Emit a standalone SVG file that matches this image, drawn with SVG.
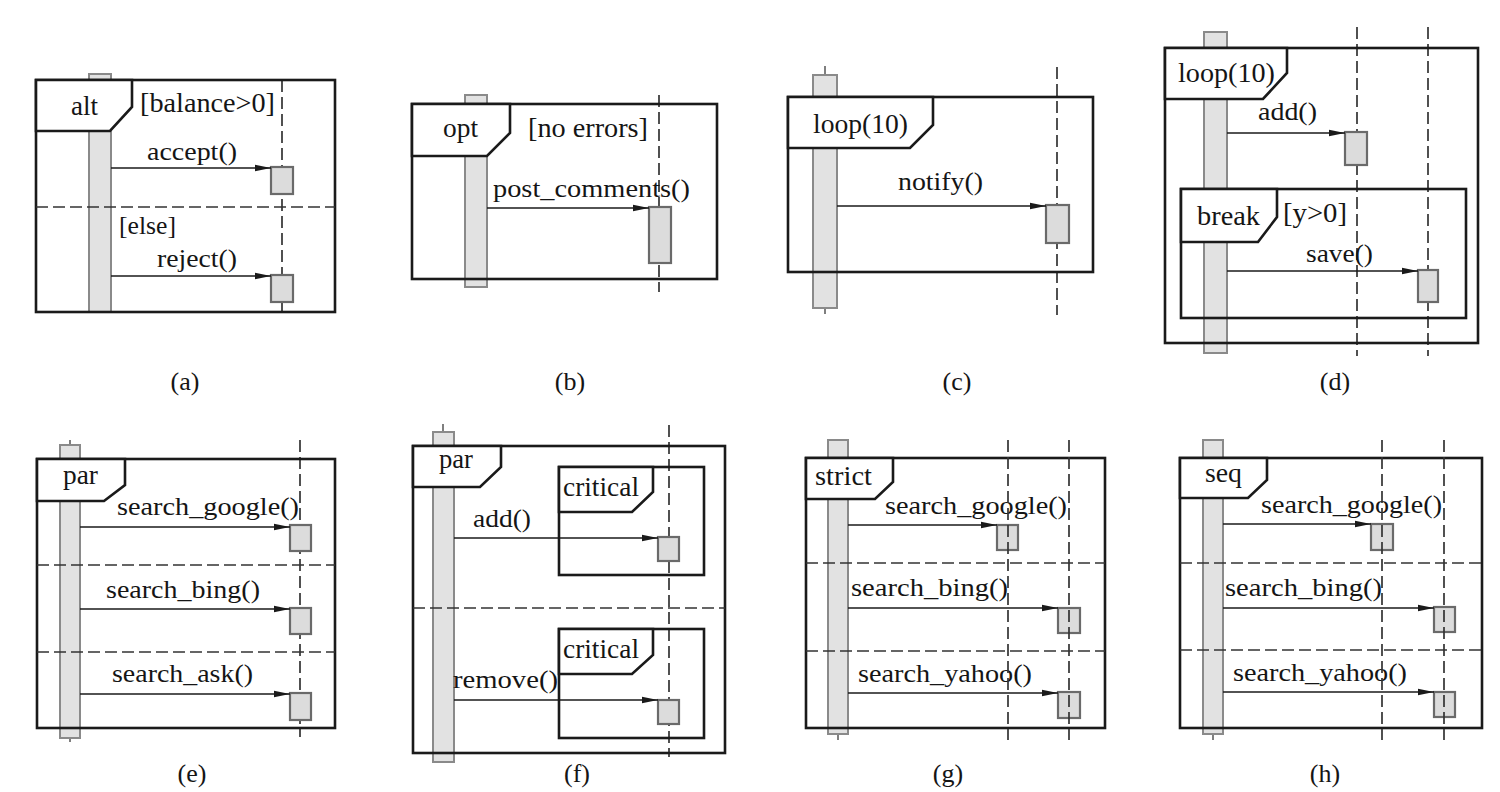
<svg xmlns="http://www.w3.org/2000/svg" width="1500" height="792" viewBox="0 0 1500 792">
<defs>
<marker id="arr" markerWidth="16" markerHeight="8" refX="16" refY="4" orient="auto" markerUnits="userSpaceOnUse"><path d="M0,0.8 L16,4 L0,7.2 z" fill="#1a1a1a"/></marker>
<style>
.fr{fill:none;stroke:#1a1a1a;stroke-width:2.6}
.tab{fill:#fff;stroke:#1a1a1a;stroke-width:2.6;stroke-linejoin:miter}
.ll{fill:none;stroke:#333;stroke-width:1.7;stroke-dasharray:12 5}
.bar{fill:#e2e2e2;stroke:#8a8a8a;stroke-width:2}
.stub{stroke:#555;stroke-width:1.5}
.act{fill:#dcdcdc;stroke:#6a6a6a;stroke-width:2.2}
.msg{fill:none;stroke:#1a1a1a;stroke-width:1.6;marker-end:url(#arr)}
text{font-family:"Liberation Serif","Tinos","Times New Roman",serif;fill:#151515}
.t26{font-size:28px}
.t24{font-size:26px}
.lab{font-size:26px;text-anchor:middle}
</style>
</defs>
<rect width="1500" height="792" fill="#fff"/>

<!-- (a) alt -->
<g id="panel-a">
<line class="ll" x1="282" y1="80" x2="282" y2="315"/>
<rect class="bar" x="89" y="74" width="22" height="238"/>
<rect class="fr" x="36" y="80" width="299" height="232"/>
<line class="ll" x1="36" y1="207" x2="335" y2="207"/>
<polygon class="tab" points="36,80 132,80 132,107 110,131 36,131"/>
<text class="t26" x="71" y="115" textLength="27" lengthAdjust="spacingAndGlyphs">alt</text>
<text class="t26" x="140" y="112" textLength="135" lengthAdjust="spacingAndGlyphs">[balance&gt;0]</text>
<text class="t24" x="147" y="160" textLength="90" lengthAdjust="spacingAndGlyphs">accept()</text>
<text class="t24" x="119" y="234" textLength="57" lengthAdjust="spacingAndGlyphs">[else]</text>
<text class="t24" x="157" y="267" textLength="80" lengthAdjust="spacingAndGlyphs">reject()</text>
<rect class="act" x="271" y="167" width="22" height="27"/>
<rect class="act" x="271" y="275" width="22" height="27"/>
</g>

<!-- (b) opt -->
<g id="panel-b">
<line class="ll" x1="659" y1="95" x2="659" y2="292"/>
<rect class="bar" x="465" y="95" width="22" height="192"/>
<rect class="fr" x="412" y="104" width="305" height="175"/>
<polygon class="tab" points="412,104 510,104 510,133 487,156 412,156"/>
<text class="t26" x="443" y="137" textLength="35" lengthAdjust="spacingAndGlyphs">opt</text>
<text class="t26" x="528" y="137" textLength="120" lengthAdjust="spacingAndGlyphs">[no errors]</text>
<text class="t24" x="493" y="197" textLength="197" lengthAdjust="spacingAndGlyphs">post_comments()</text>
<rect class="act" x="649" y="207" width="22" height="56"/>
</g>

<!-- (c) loop -->
<g id="panel-c">
<line class="ll" x1="1057" y1="67" x2="1057" y2="315"/>
<line class="stub" x1="825" y1="66" x2="825" y2="314"/>
<rect class="bar" x="813" y="75" width="24" height="233"/>
<rect class="fr" x="788" y="97" width="305" height="175"/>
<polygon class="tab" points="788,97 933,97 933,125 910,148 788,148"/>
<text class="t26" x="813" y="133" textLength="95" lengthAdjust="spacingAndGlyphs">loop(10)</text>
<text class="t24" x="898" y="190" textLength="85" lengthAdjust="spacingAndGlyphs">notify()</text>
<rect class="act" x="1046" y="205" width="23" height="38"/>
</g>

<!-- (d) loop + break -->
<g id="panel-d">
<line class="ll" x1="1357" y1="27" x2="1357" y2="356"/>
<line class="ll" x1="1428" y1="27" x2="1428" y2="356"/>
<rect class="bar" x="1204" y="32" width="23" height="321"/>
<rect class="fr" x="1165" y="48" width="313" height="295"/>
<polygon class="tab" points="1165,48 1287,48 1287,73 1263,99 1165,99"/>
<text class="t26" x="1178" y="82" textLength="97" lengthAdjust="spacingAndGlyphs">loop(10)</text>
<text class="t24" x="1258" y="120" textLength="59" lengthAdjust="spacingAndGlyphs">add()</text>
<rect class="act" x="1345" y="132" width="22" height="33"/>
<g id="frame-break">
<rect class="fr" x="1181" y="189" width="285" height="129"/>
<polygon class="tab" points="1181,189 1277,189 1277,217 1258,242 1181,242"/>
<text class="t26" x="1197" y="225" textLength="63" lengthAdjust="spacingAndGlyphs">break</text>
<text class="t26" x="1283" y="222" textLength="64" lengthAdjust="spacingAndGlyphs">[y&gt;0]</text>
</g>
<text class="t24" x="1306" y="262" textLength="67" lengthAdjust="spacingAndGlyphs">save()</text>
<rect class="act" x="1418" y="270" width="20" height="32"/>
</g>

<!-- (e) par -->
<g id="panel-e">
<line class="ll" x1="300" y1="440" x2="300" y2="737"/>
<line class="stub" x1="70" y1="440" x2="70" y2="742"/>
<rect class="bar" x="60" y="445" width="20" height="293"/>
<rect class="fr" x="37" y="459" width="298" height="269"/>
<line class="ll" x1="37" y1="565" x2="335" y2="565"/>
<line class="ll" x1="37" y1="652" x2="335" y2="652"/>
<polygon class="tab" points="37,459 125,459 125,485 104,501 37,501"/>
<text class="t26" x="63" y="484" textLength="35" lengthAdjust="spacingAndGlyphs">par</text>
<text class="t24" x="117" y="515" textLength="182" lengthAdjust="spacingAndGlyphs">search_google()</text>
<text class="t24" x="106" y="598" textLength="154" lengthAdjust="spacingAndGlyphs">search_bing()</text>
<text class="t24" x="112" y="682" textLength="141" lengthAdjust="spacingAndGlyphs">search_ask()</text>
<rect class="act" x="290" y="525" width="21" height="26"/>
<rect class="act" x="290" y="608" width="21" height="26"/>
<rect class="act" x="290" y="693" width="21" height="27"/>
</g>

<!-- (f) par + critical -->
<g id="panel-f">
<line class="ll" x1="669" y1="425" x2="669" y2="757"/>
<line class="stub" x1="443" y1="424" x2="443" y2="432"/>
<rect class="bar" x="433" y="432" width="21" height="330"/>
<rect class="fr" x="413" y="446" width="312" height="307"/>
<line class="ll" x1="413" y1="608" x2="725" y2="608"/>
<polygon class="tab" points="413,446 501,446 501,467 480,487 413,487"/>
<text class="t26" x="439" y="468" textLength="34" lengthAdjust="spacingAndGlyphs">par</text>
<g id="frame-critical-1">
<rect class="fr" x="559" y="467" width="145" height="108"/>
<polygon class="tab" points="559,467 653,467 653,492 632,512 559,512"/>
<text class="t26" x="563" y="496" textLength="76" lengthAdjust="spacingAndGlyphs">critical</text>
</g>
<g id="frame-critical-2">
<rect class="fr" x="559" y="629" width="145" height="109"/>
<polygon class="tab" points="559,629 653,629 653,655 632,674 559,674"/>
<text class="t26" x="563" y="658" textLength="76" lengthAdjust="spacingAndGlyphs">critical</text>
</g>
<text class="t24" x="473" y="527" textLength="58" lengthAdjust="spacingAndGlyphs">add()</text>
<text class="t24" x="453" y="688" textLength="105" lengthAdjust="spacingAndGlyphs">remove()</text>
<rect class="act" x="658" y="537" width="21" height="24"/>
<rect class="act" x="658" y="700" width="21" height="24"/>
</g>

<!-- (g) strict -->
<g id="panel-g">
<line class="stub" x1="838" y1="730" x2="838" y2="740"/>
<rect class="bar" x="828" y="440" width="20" height="294"/>
<rect class="fr" x="806" y="458" width="299" height="270"/>
<line class="ll" x1="806" y1="563" x2="1105" y2="563"/>
<line class="ll" x1="806" y1="651" x2="1105" y2="651"/>
<polygon class="tab" points="806,458 893,458 893,482 875,499 806,499"/>
<text class="t26" x="815" y="485" textLength="57" lengthAdjust="spacingAndGlyphs">strict</text>
<text class="t24" x="885" y="514" textLength="182" lengthAdjust="spacingAndGlyphs">search_google()</text>
<text class="t24" x="851" y="596" textLength="157" lengthAdjust="spacingAndGlyphs">search_bing()</text>
<text class="t24" x="858" y="682" textLength="174" lengthAdjust="spacingAndGlyphs">search_yahoo()</text>
<rect class="act" x="997" y="525" width="21" height="25"/>
<rect class="act" x="1058" y="608" width="22" height="25"/>
<rect class="act" x="1058" y="692" width="22" height="26"/>
<line class="ll" x1="1008" y1="440" x2="1008" y2="740"/>
<line class="ll" x1="1069" y1="440" x2="1069" y2="740"/>
</g>

<!-- (h) seq -->
<g id="panel-h">
<line class="stub" x1="1213" y1="730" x2="1213" y2="740"/>
<rect class="bar" x="1203" y="440" width="20" height="294"/>
<rect class="fr" x="1180" y="458" width="302" height="270"/>
<line class="ll" x1="1180" y1="563" x2="1482" y2="563"/>
<line class="ll" x1="1180" y1="650" x2="1482" y2="650"/>
<polygon class="tab" points="1180,458 1267,458 1267,480 1248,498 1180,498"/>
<text class="t26" x="1205" y="482" textLength="37" lengthAdjust="spacingAndGlyphs">seq</text>
<text class="t24" x="1261" y="513" textLength="181" lengthAdjust="spacingAndGlyphs">search_google()</text>
<text class="t24" x="1225" y="596" textLength="157" lengthAdjust="spacingAndGlyphs">search_bing()</text>
<text class="t24" x="1233" y="681" textLength="174" lengthAdjust="spacingAndGlyphs">search_yahoo()</text>
<rect class="act" x="1371" y="524" width="22" height="26"/>
<rect class="act" x="1434" y="607" width="21" height="25"/>
<rect class="act" x="1434" y="692" width="21" height="25"/>
<line class="ll" x1="1382" y1="440" x2="1382" y2="740"/>
<line class="ll" x1="1444" y1="440" x2="1444" y2="740"/>
</g>

<!-- messages -->
<g id="connectors">
<line class="msg" x1="111" y1="168" x2="271" y2="168"/>
<line class="msg" x1="111" y1="276" x2="271" y2="276"/>
<line class="msg" x1="487" y1="208" x2="649" y2="208"/>
<line class="msg" x1="837" y1="206" x2="1046" y2="206"/>
<line class="msg" x1="1227" y1="133" x2="1345" y2="133"/>
<line class="msg" x1="1227" y1="271" x2="1418" y2="271"/>
<line class="msg" x1="80" y1="527" x2="290" y2="527"/>
<line class="msg" x1="80" y1="609" x2="290" y2="609"/>
<line class="msg" x1="80" y1="694" x2="290" y2="694"/>
<line class="msg" x1="454" y1="538" x2="658" y2="538"/>
<line class="msg" x1="454" y1="700" x2="658" y2="700"/>
<line class="msg" x1="848" y1="525" x2="997" y2="525"/>
<line class="msg" x1="848" y1="608" x2="1058" y2="608"/>
<line class="msg" x1="848" y1="693" x2="1058" y2="693"/>
<line class="msg" x1="1223" y1="524" x2="1371" y2="524"/>
<line class="msg" x1="1223" y1="608" x2="1434" y2="608"/>
<line class="msg" x1="1223" y1="692" x2="1434" y2="692"/>
</g>

<!-- captions -->
<g id="captions">
<text class="lab" x="185" y="390">(a)</text>
<text class="lab" x="570" y="390">(b)</text>
<text class="lab" x="957" y="390">(c)</text>
<text class="lab" x="1335" y="390">(d)</text>
<text class="lab" x="192" y="782">(e)</text>
<text class="lab" x="577" y="782">(f)</text>
<text class="lab" x="948" y="782">(g)</text>
<text class="lab" x="1325" y="782">(h)</text>
</g>
</svg>
